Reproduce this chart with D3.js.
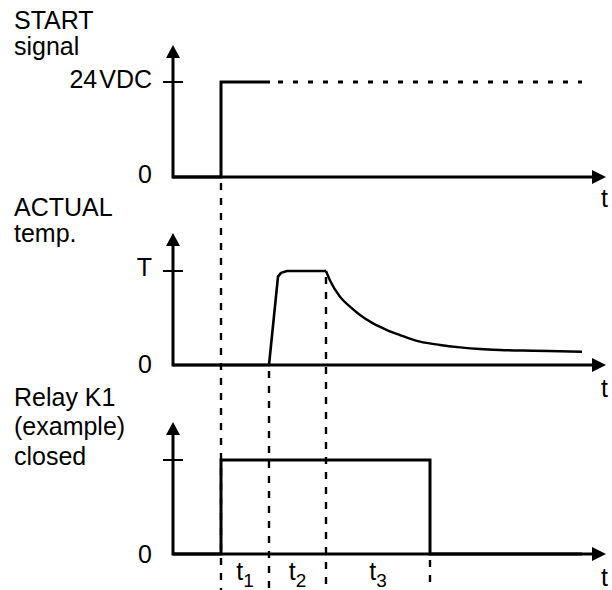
<!DOCTYPE html>
<html>
<head>
<meta charset="utf-8">
<script src="https://cdn.jsdelivr.net/npm/d3@7"></script>
<style>
  html, body { margin: 0; padding: 0; background: #fff; }
  svg text { font-family: "Liberation Sans", Arial, sans-serif; fill: #000; }
</style>
</head>
<body>
<svg id="chart" width="612" height="590"></svg>
<script>
// Time axis (arbitrary units) shared by the three traces
const timeDomain = [0, 42];

// Trace titles, one line per entry
const startTitle = ["START", "signal"];
const tempTitle = ["ACTUAL", "temp."];
const relayTitle = ["Relay K1", "(example)", "closed"];

// Level labels on the vertical axes
const startLevel = "24VDC";
const tempLevel = "T";
const zeroLabel = "0";
const timeLabel = "t";

// START signal: step up at t = 4.8, held (dashed) afterwards
const startSignal = [
  { t: 0, v: 0 }, { t: 4.8, v: 0 }, { t: 4.8, v: 1 }, { t: 9.7, v: 1 }
];
const startSignalHeld = [{ t: 9.7, v: 1 }, { t: 40.9, v: 1 }];

// ACTUAL temperature: rise, hold at T, then decay towards ambient
const tempRise = [
  { t: 0, v: 0 }, { t: 9.6, v: 0 }, { t: 10.5, v: 0.94 }, { t: 10.8, v: 0.98 },
  { t: 11.4, v: 1 }, { t: 15.3, v: 1 }
];
const tempDecay = [
  { t: 15.3, v: 1 }, { t: 15.7, v: 0.9 }, { t: 16.7, v: 0.727 }, { t: 17.7, v: 0.62 },
  { t: 18.7, v: 0.532 }, { t: 20.0, v: 0.443 }, { t: 21.4, v: 0.372 }, { t: 22.7, v: 0.319 },
  { t: 24.7, v: 0.248 }, { t: 26.7, v: 0.213 }, { t: 28.7, v: 0.188 }, { t: 30.7, v: 0.17 },
  { t: 32.7, v: 0.16 }, { t: 36.0, v: 0.152 }, { t: 40.9, v: 0.141 }
];

// Relay K1 state (0 = open, 1 = closed)
const relayK1 = [
  { t: 0, v: 0 }, { t: 4.8, v: 0 }, { t: 4.8, v: 1 }, { t: 25.7, v: 1 },
  { t: 25.7, v: 0 }, { t: 40.9, v: 0 }
];

// Phase boundaries and their interval names t1..t3
const phaseBounds = [4.8, 9.6, 15.3, 25.7];
const phaseNames = ["1", "2", "3"];

const svg = d3.select("#chart");
const x = d3.scaleLinear().domain(timeDomain).range([173, 593]);

// One vertical scale per trace
const yStart = d3.scaleLinear().domain([0, 1]).range([177, 82]);
const yTemp = d3.scaleLinear().domain([0, 1]).range([365, 271]);
const yRelay = d3.scaleLinear().domain([0, 1]).range([554, 460]);

const bottom = 590;

// Dashed guide lines at the phase boundaries
const guides = [
  { t: phaseBounds[0], from: yStart(0) },
  { t: phaseBounds[1], from: yTemp(0) },
  { t: phaseBounds[2], from: yTemp(1) },
  { t: phaseBounds[3], from: yRelay(0) }
];
svg.append("g").selectAll("line").data(guides).join("line")
  .attr("x1", d => x(d.t)).attr("x2", d => x(d.t))
  .attr("y1", d => d.from + 6).attr("y2", bottom)
  .attr("stroke", "#000").attr("stroke-width", 2.4)
  .attr("stroke-dasharray", "7,8").attr("stroke-dashoffset", 0);

// Axes with arrowheads and level ticks
function drawAxes(y, levelText, zeroDy, levelDy, tDy) {
  const g = svg.append("g");
  const x0 = x(0), y0 = y(0);
  const xEnd = x(timeDomain[1]);
  g.append("line").attr("x1", x0).attr("y1", y0).attr("x2", xEnd).attr("y2", y0)
    .attr("stroke", "#000").attr("stroke-width", 3);
  g.append("path")
    .attr("d", `M${xEnd - 1},${y0 - 7}L${xEnd + 13},${y0}L${xEnd - 1},${y0 + 7}Z`)
    .attr("fill", "#000");
  const yTop = y0 - 132;
  g.append("line").attr("x1", x0).attr("y1", y0 + 1.5).attr("x2", x0).attr("y2", yTop + 12)
    .attr("stroke", "#000").attr("stroke-width", 3);
  g.append("path")
    .attr("d", `M${x0 - 7},${yTop + 13}L${x0},${yTop}L${x0 + 7},${yTop + 13}Z`)
    .attr("fill", "#000");
  g.append("line").attr("x1", x0 - 10).attr("x2", x0 + 10)
    .attr("y1", y(1)).attr("y2", y(1))
    .attr("stroke", "#000").attr("stroke-width", 2);
  g.append("text").attr("x", 152).attr("y", y0 + zeroDy)
    .attr("text-anchor", "end").attr("font-size", 25).text(zeroLabel);
  if (levelText) {
    g.append("text").attr("x", 152).attr("y", y(1) + levelDy)
      .attr("text-anchor", "end").attr("font-size", 25).text(levelText);
  }
  g.append("text").attr("x", 601).attr("y", y0 + tDy)
    .attr("font-size", 25).text(timeLabel);
}
drawAxes(yStart, null, 6, 6, 30);
drawAxes(yTemp, tempLevel, 8, 5, 32);
drawAxes(yRelay, null, 9, 5, 32);

// "24 VDC" with a narrow gap between number and unit
const vdc = svg.append("text").attr("x", 152).attr("y", yStart(1) + 6)
  .attr("text-anchor", "end").attr("font-size", 25);
vdc.append("tspan").text(startLevel.slice(0, 2));
vdc.append("tspan").attr("dx", 2).text(startLevel.slice(2));

// Trace titles
function drawTitle(lines, baselines) {
  svg.append("g").selectAll("text").data(lines).join("text")
    .attr("x", 14).attr("y", (d, i) => baselines[i])
    .attr("font-size", 25).text(d => d);
}
drawTitle(startTitle, [29, 55]);
drawTitle(tempTitle, [216, 242]);
drawTitle(relayTitle, [406, 435, 465]);

// Signal traces
const line = y => d3.line().x(d => x(d.t)).y(d => y(d.v));
svg.append("path").datum(startSignal).attr("d", line(yStart))
  .attr("fill", "none").attr("stroke", "#000").attr("stroke-width", 3)
  .attr("stroke-linejoin", "miter");
svg.append("path").datum(startSignalHeld).attr("d", line(yStart))
  .attr("fill", "none").attr("stroke", "#000").attr("stroke-width", 3)
  .attr("stroke-dasharray", "5,10").attr("stroke-dashoffset", -8);

svg.append("path").datum(tempRise).attr("d", line(yTemp))
  .attr("fill", "none").attr("stroke", "#000").attr("stroke-width", 2.6)
  .attr("stroke-linejoin", "round");
svg.append("path").datum(tempDecay)
  .attr("d", d3.line().x(d => x(d.t)).y(d => yTemp(d.v)).curve(d3.curveMonotoneX))
  .attr("fill", "none").attr("stroke", "#000").attr("stroke-width", 2.4);

svg.append("path").datum(relayK1).attr("d", line(yRelay))
  .attr("fill", "none").attr("stroke", "#000").attr("stroke-width", 3)
  .attr("stroke-linejoin", "miter");

// Interval labels t1, t2, t3 between the guides
const phases = phaseNames.map((n, i) => ({ n, mid: (phaseBounds[i] + phaseBounds[i + 1]) / 2 }));
const pl = svg.append("g").selectAll("text").data(phases).join("text")
  .attr("x", d => x(d.mid)).attr("y", 580)
  .attr("text-anchor", "middle").attr("font-size", 25);
pl.append("tspan").text(timeLabel);
pl.append("tspan").attr("dy", 7).attr("font-size", 19).text(d => d.n);
</script>
</body>
</html>
